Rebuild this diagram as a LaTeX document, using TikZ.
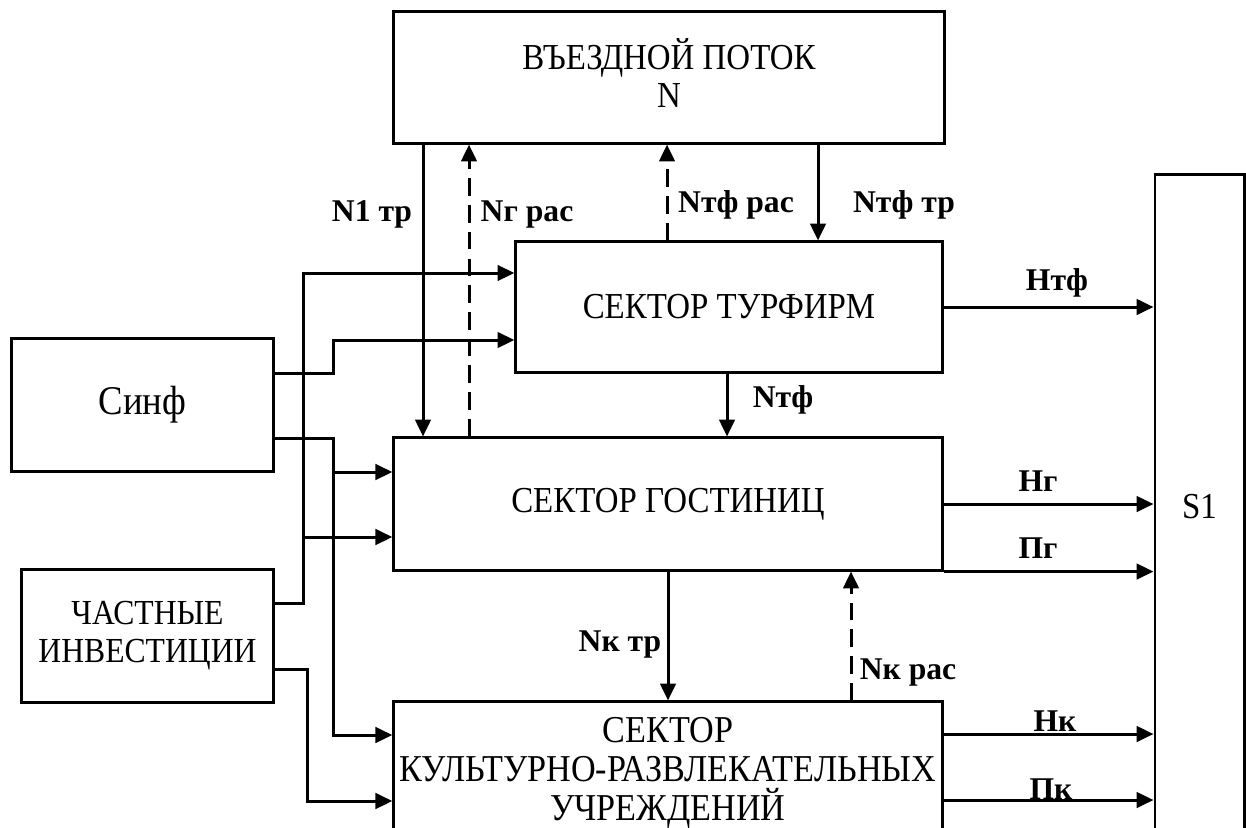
\documentclass[tikz,border=0pt]{standalone}
\usepackage{fontspec}
\setmainfont{Liberation Serif}[FakeStretch=0.9]
\newfontfamily\lblfont{Liberation Serif}
\usetikzlibrary{arrows.meta}
\begin{document}
\begin{tikzpicture}[x=0.01cm,y=-0.01cm,
  line width=0.85pt,
  box/.style={draw,inner sep=0pt,font=\fontsize{10.4}{11}\selectfont,align=center},
  arr/.style={-{Triangle[length=4.8pt,width=4.4pt]}},
  darr/.style={arr,dash pattern=on 5pt off 2.6pt},
  lbl/.style={font=\lblfont\fontsize{9}{10}\selectfont\bfseries,inner sep=0pt}]
\useasboundingbox (0,0) rectangle (1246,827);
\clip (0,0) rectangle (1246,827);
% boxes
\node[box,minimum width=5.5cm,minimum height=1.31cm] (top) at (669,77.5) {};
\node[font=\fontsize{10.4}{10.6}\selectfont,align=center,inner sep=0pt] (toptxt) at (669,73) {ВЪЕЗДНОЙ ПОТОК\\N};
\node[box,minimum width=4.26cm,minimum height=1.30cm] (tf) at (729,307) {СЕКТОР ТУРФИРМ};
\node[box,minimum width=5.48cm,minimum height=1.32cm] (gost) at (668,504) {СЕКТОР ГОСТИНИЦ};
\node[box,minimum width=5.48cm,minimum height=1.42cm,font=\fontsize{10.8}{11}\selectfont] (kult) at (668,773) {СЕКТОР\\КУЛЬТУРНО-РАЗВЛЕКАТЕЛЬНЫХ\\УЧРЕЖДЕНИЙ};
\node[box,minimum width=0.89cm,minimum height=6.64cm] (s1) at (1199.5,507) {S1};
\node[box,minimum width=2.61cm,minimum height=1.32cm,font=\fontsize{11.6}{14}\selectfont] (sinf) at (142.5,405) {Синф};
\node[box,minimum width=2.51cm,minimum height=1.32cm,font=\fontsize{10}{10.8}\selectfont] (chast) at (147.5,636) {ЧАСТНЫЕ\\ИНВЕСТИЦИИ};
% helper coordinates
\coordinate (cA) at (423,0); \coordinate (cB) at (469,0);
\coordinate (cC) at (667,0); \coordinate (cD) at (818,0);
\coordinate (cE) at (727,0); \coordinate (cF) at (668,0);
\coordinate (cG) at (851,0);
\coordinate (v1) at (333,0); \coordinate (v2) at (303,0); \coordinate (v3) at (307,0);
\coordinate (r1) at (0,340); \coordinate (r2) at (0,273);
\coordinate (r3) at (0,472); \coordinate (r4) at (0,537);
\coordinate (r5) at (0,735); \coordinate (r6) at (0,801);
\coordinate (rs1) at (0,373); \coordinate (rs2) at (0,438);
\coordinate (rc1) at (0,603); \coordinate (rc2) at (0,669);
\coordinate (rh1) at (0,307); \coordinate (rh2) at (0,504);
\coordinate (rh4) at (0,734); \coordinate (rh5) at (0,800);
% vertical flows
\draw[arr] (top.south -| cA) -- (gost.north -| cA);
\draw[darr] (gost.north -| cB) -- (top.south -| cB);
\draw[darr] (tf.north -| cC) -- (top.south -| cC);
\draw[arr] (top.south -| cD) -- (tf.north -| cD);
\draw[arr] (tf.south -| cE) -- (gost.north -| cE);
\draw[arr] (gost.south -| cF) -- (kult.north -| cF);
\draw[darr] (kult.north -| cG) -- (gost.south -| cG);
% to S1
\draw[arr] (tf.east |- rh1) -- (s1.west |- rh1);
\draw[arr] (gost.east |- rh2) -- (s1.west |- rh2);
\draw[arr] (gost.south east) -- (s1.west |- gost.south);
\draw[arr] (kult.east |- rh4) -- (s1.west |- rh4);
\draw[arr] (kult.east |- rh5) -- (s1.west |- rh5);
% left inputs
\draw[arr] (sinf.east |- rs1) -| (v1 |- r1) -- (tf.west |- r1);
\draw[arr] (sinf.east |- rs2) -| (v1 |- r5) -- (kult.west |- r5);
\draw[arr] (v1 |- r3) -- (gost.west |- r3);
\draw[arr] (chast.east |- rc1) -| (v2 |- r2) -- (tf.west |- r2);
\draw[arr] (v2 |- r4) -- (gost.west |- r4);
\draw[arr] (chast.east |- rc2) -| (v3 |- r6) -- (kult.west |- r6);
% labels
\node[lbl] (l1) at (372,214) {N1 тр};
\node[lbl] (l2) at (527,214) {Nг рас};
\node[lbl] (l3) at (736,205) {Nтф рас};
\node[lbl] (l4) at (904,205) {Nтф тр};
\node[lbl] (l5) at (1057,283) {Нтф};
\node[lbl] (l6) at (783,400) {Nтф};
\node[lbl] (l7) at (1038,481) {Нг};
\node[lbl] (l8) at (1038,548) {Пг};
\node[lbl] (l9) at (620,644) {Nк тр};
\node[lbl] (l10) at (908,672) {Nк рас};
\node[lbl] (l11) at (1055,721) {Нк};
\node[lbl] (l12) at (1051,789) {Пк};
\end{tikzpicture}
\end{document}
